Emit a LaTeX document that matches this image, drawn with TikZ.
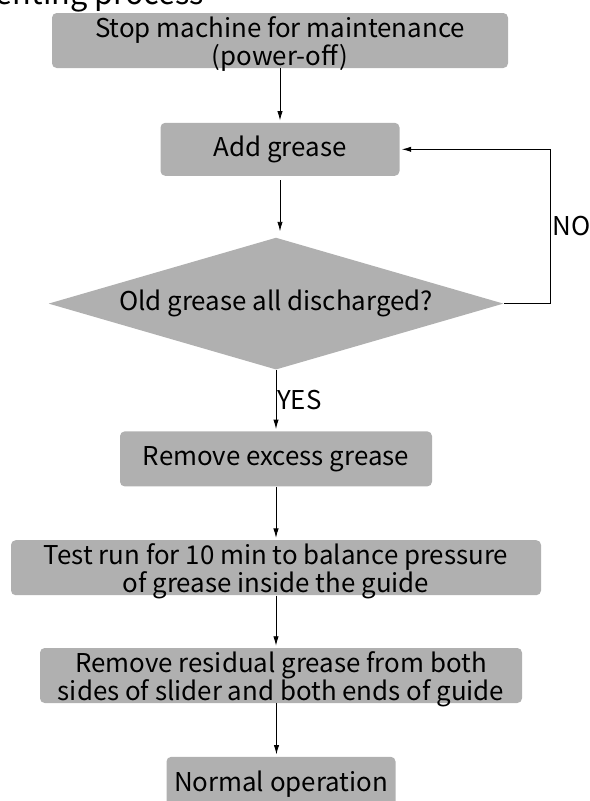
\documentclass[tikz,border=0pt]{standalone}
\usepackage{fontspec}
\setmainfont{Noto Sans CJK SC}
\usetikzlibrary{arrows.meta,positioning,shapes.geometric}
\definecolor{boxgray}{RGB}{176,176,176}

\begin{document}
\begin{tikzpicture}[x=0.75pt,y=-0.75pt,->,>={Latex[length=7pt,width=4pt]},
        shorten >=1.5pt,line width=0.6pt,node distance=40pt,
        every node/.style={font=\fontsize{19.4pt}{21pt}\selectfont},
        stepbox/.style={draw=none,fill=boxgray,rounded corners=3.5pt,
            minimum height=41.25pt,inner sep=0pt},
        decision/.style={diamond,draw=none,fill=boxgray,inner sep=0pt,
            minimum width=341.25pt,minimum height=99pt},
        boxtext/.style={align=center},
        twoline/.style={align=center,yshift=-2.5pt}]

    \useasboundingbox (0,0) rectangle (590,801);

    \node[anchor=base west,inner sep=0pt,font=\fontsize{23pt}{26pt}\selectfont] (title)
        at (-4.5,4.5) {enting process};

    \node[stepbox,minimum width=342pt,
        label={[twoline]center:Stop machine for maintenance\\(power-off)}] (stop) at (280,40.5) {};
    \node[stepbox,minimum width=179.25pt,minimum height=39.75pt,
        label={[boxtext]center:Add grease}] (add) [below=40.5pt of stop] {};
    \node[decision,label={[boxtext]center:Old grease all discharged?}] (dia)
        [below=45.75pt of add,xshift=-3pt] {};
    \node[stepbox,minimum width=234pt,
        label={[boxtext]center:Remove excess grease}] (excess) [below=45.75pt of dia] {};
    \node[stepbox,minimum width=397.5pt,
        label={[twoline]center:Test run for 10 min to balance pressure\\of grease inside the guide}] (test)
        [below=39.75pt of excess] {};
    \node[stepbox,minimum width=361.5pt,
        label={[twoline]center:Remove residual grease from both\\sides of slider and both ends of guide}] (residual)
        [below=39pt of test,xshift=3.75pt] {};
    \node[stepbox,minimum width=171.75pt,
        label={[boxtext]center:Normal operation}] (normal) [below=39.75pt of residual] {};

    \draw (stop.south) -- (stop.south |- add.north);
    \draw ([yshift=-3pt]add.south) -- ([yshift=3pt]add.south |- dia.north);
    \draw (dia.east) -- ++(46,0) |- node[pos=0.25,right,inner sep=2pt] {NO} (add.east);
    \draw (dia.south) -- node[right,inner sep=0.5pt] {YES} (dia.south |- excess.north);
    \draw (excess.south) -- (excess.south |- test.north);
    \draw (test.south) -- (test.south |- residual.north);
    \draw ([xshift=-3.4pt]residual.south) -- ([xshift=-3.4pt]residual.south |- normal.north);
\end{tikzpicture}
\end{document}
